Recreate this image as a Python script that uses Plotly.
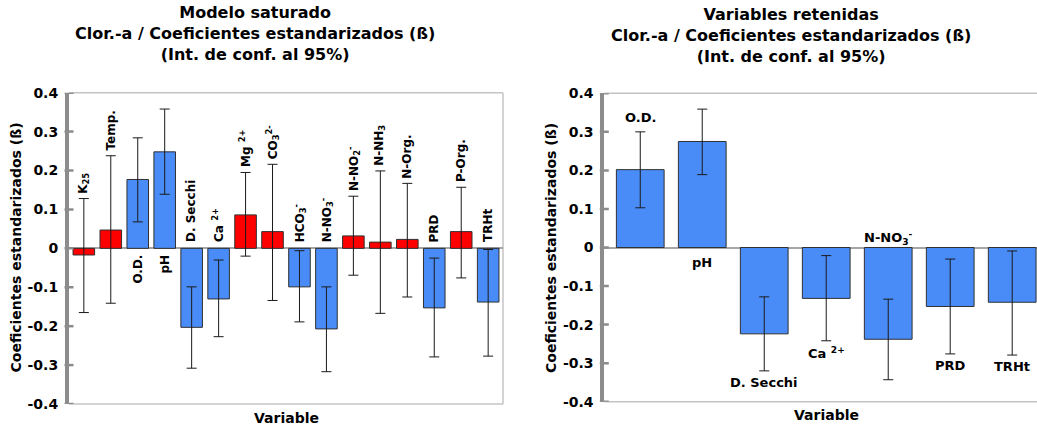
import plotly.graph_objects as go

# ---- Modelo saturado: standardized coefficients (beta) with 95% CI ----
sat_names = ["K25", "Temp.", "O.D.", "pH", "D. Secchi", "Ca", "Mg", "CO3", "HCO3",
             "N-NO3", "N-NO2", "N-NH3", "N-Org.", "PRD", "P-Org.", "TRHt"]
sat_labels = ["K<sub>25</sub>", "Temp.", "O.D.", "pH", "D. Secchi", "Ca <sup>2+</sup>",
              "Mg <sup>2+</sup>", "CO<sub>3</sub><sup>2-</sup>", "HCO<sub>3</sub><sup>-</sup>",
              "N-NO<sub>3</sub><sup>-</sup>", "N-NO<sub>2</sub><sup>-</sup>", "N-NH<sub>3</sub>",
              "N-Org.", "PRD", "P-Org.", "TRHt"]
sat_beta = [-0.017, 0.047, 0.177, 0.248, -0.203, -0.130, 0.086, 0.043, -0.099,
            -0.207, 0.032, 0.016, 0.023, -0.153, 0.043, -0.138]
sat_lo = [-0.165, -0.141, 0.068, 0.139, -0.308, -0.227, -0.020, -0.134, -0.189,
          -0.317, -0.069, -0.167, -0.125, -0.279, -0.076, -0.277]
sat_hi = [0.128, 0.238, 0.284, 0.358, -0.099, -0.030, 0.195, 0.216, -0.006,
          -0.099, 0.134, 0.199, 0.167, -0.025, 0.157, -0.003]

# ---- Variables retenidas ----
ret_names = ["O.D.", "pH", "D. Secchi", "Ca", "N-NO3", "PRD", "TRHt"]
ret_labels = ["O.D.", "pH", "D. Secchi", "Ca <sup>2+</sup>", "N-NO<sub>3</sub><sup>-</sup>", "PRD", "TRHt"]
ret_beta = [0.202, 0.275, -0.224, -0.132, -0.238, -0.153, -0.142]
ret_lo = [0.103, 0.189, -0.320, -0.242, -0.343, -0.276, -0.279]
ret_hi = [0.300, 0.359, -0.128, -0.021, -0.134, -0.030, -0.009]

y_ticks = [-0.4, -0.3, -0.2, -0.1, 0, 0.1, 0.2, 0.3, 0.4]
y_tick_labels = ["-0.4", "-0.3", "-0.2", "-0.1", "0", "0.1", "0.2", "0.3", "0.4"]

# label placement (style): where each bar's name sits
sat_label_pos = ["ci", "ci", "below", "below", "above", "above", "ci", "ci", "above",
                 "above", "ci", "ci", "ci", "above", "ci", "above"]
ret_label_pos = ["ci_top", "below", "ci_bottom", "ci_bottom", "above", "ci_bottom", "ci_bottom"]

BLUE = "#4a8cf7"
RED = "#ff0000"
FONT = "DejaVu Sans"
W, H = 1037, 427


def px_x(p):
    return p / W


def px_y(p):
    return (H - p) / H


sat_colors = [BLUE if lo * hi > 0 else RED for lo, hi in zip(sat_lo, sat_hi)]
ret_colors = [BLUE for _ in ret_beta]

fig = go.Figure()


def add_bars(names, beta, lo, hi, colors, xa, ya, width):
    fig.add_trace(go.Bar(
        x=names, y=beta, xaxis=xa, yaxis=ya, width=width,
        marker=dict(color=colors, line=dict(color="#303030", width=1)),
        error_y=dict(type="data", symmetric=False,
                     array=[h - b for h, b in zip(hi, beta)],
                     arrayminus=[b - l for l, b in zip(lo, beta)],
                     color="#1a1a1a", thickness=1, width=5),
        showlegend=False, hoverinfo="skip",
    ))


add_bars(sat_names, sat_beta, sat_lo, sat_hi, sat_colors, "x", "y", 0.8)
add_bars(ret_names, ret_beta, ret_lo, ret_hi, ret_colors, "x2", "y2", 0.77)

axis_gray = "#8c8c8c"
yax_common = dict(range=[-0.4, 0.4], tickvals=y_ticks, ticktext=y_tick_labels,
                  showgrid=False, zeroline=True, zerolinecolor="#a6a6a6", zerolinewidth=1.5,
                  showline=True, linecolor=axis_gray, linewidth=4, ticks="",
                  tickfont=dict(family=FONT, size=14, color="black", weight="bold"),
                  ticklabelstandoff=4, automargin=False)
xax_common = dict(type="category", showticklabels=False, showgrid=False, zeroline=False,
                  showline=False, ticks="", automargin=False)

fig.update_layout(
    width=W, height=H, margin=dict(l=0, r=0, t=0, b=0, pad=0, autoexpand=False),
    paper_bgcolor="white", plot_bgcolor="white",
    font=dict(family=FONT, color="black", weight="bold"),
    bargap=0.2,
    xaxis=dict(domain=[px_x(69), px_x(503)], range=[-0.55, 15.55],
               categoryorder="array", categoryarray=sat_names, anchor="y", **xax_common),
    yaxis=dict(domain=[px_y(404), px_y(92.7)], anchor="x", **yax_common),
    xaxis2=dict(domain=[px_x(604.3), 1], range=[-0.58, 6.40],
                categoryorder="array", categoryarray=ret_names, anchor="y2", **xax_common),
    yaxis2=dict(domain=[px_y(401.7), px_y(93.3)], anchor="x2", **yax_common),
)

shapes = []
# plot-area frame (light gray) and crossing tick marks on the value axes
frame = "#c4c4c4"
for xr, yr, right_edge in (("x", "y", True), ("x2", "y2", False)):
    shapes.append(dict(type="line", xref=f"{xr} domain", yref=f"{yr} domain",
                       x0=0, x1=1, y0=1, y1=1, line=dict(color=frame, width=1.5), layer="below"))
    shapes.append(dict(type="line", xref=f"{xr} domain", yref=f"{yr} domain",
                       x0=0, x1=1, y0=0, y1=0, line=dict(color=frame, width=1.5), layer="below"))
    if right_edge:
        shapes.append(dict(type="line", xref=f"{xr} domain", yref=f"{yr} domain",
                           x0=1, x1=1, y0=0, y1=1, line=dict(color=frame, width=1.5), layer="below"))
    for t in y_ticks:
        shapes.append(dict(type="line", xref=f"{xr} domain", yref=yr, xsizemode="pixel",
                           xanchor=0, x0=-4.5, x1=4.5, y0=t, y1=t,
                           line=dict(color=axis_gray, width=2.5), layer="above"))
fig.update_layout(shapes=shapes)

ann = []
lab_font_sat = dict(family=FONT, size=12, color="black", weight="bold")
lab_font_ret = dict(family=FONT, size=13, color="black", weight="bold")

for name, lab, pos, hi in zip(sat_names, sat_labels, sat_label_pos, sat_hi):
    if pos == "ci":
        y, ya, ys = hi, "bottom", 3
    elif pos == "above":
        y, ya, ys = 0, "bottom", 4
    else:
        y, ya, ys = 0, "top", -4
    ann.append(dict(x=name, y=y, xref="x", yref="y", text=lab, textangle=-90,
                    showarrow=False, xanchor="center", yanchor=ya, yshift=ys,
                    font=lab_font_sat))

for name, lab, pos, lo, hi in zip(ret_names, ret_labels, ret_label_pos, ret_lo, ret_hi):
    if pos == "ci_top":
        y, ya, ys = hi, "bottom", 5
    elif pos == "ci_bottom":
        y, ya, ys = lo, "top", -2
    elif pos == "above":
        y, ya, ys = 0, "bottom", -1
    else:
        y, ya, ys = 0, "top", -5
    ann.append(dict(x=name, y=y, xref="x2", yref="y2", text=lab,
                    showarrow=False, xanchor="center", yanchor=ya, yshift=ys,
                    font=lab_font_ret))

title_font = dict(family=FONT, size=16, color="black", weight="bold")
ann.append(dict(x=px_x(255), y=1, xref="paper", yref="paper", xanchor="center", yanchor="top",
                text="Modelo saturado<br>Clor.-a / Coeficientes estandarizados (ß)<br>(Int. de conf. al 95%)",
                showarrow=False, font=title_font, yshift=-1))
ann.append(dict(x=px_x(791), y=1, xref="paper", yref="paper", xanchor="center", yanchor="top",
                text="Variables retenidas<br>Clor.-a / Coeficientes estandarizados (ß)<br>(Int. de conf. al 95%)",
                showarrow=False, font=title_font, yshift=-2.5))

axis_title_font = dict(family=FONT, size=14, color="black", weight="bold")
for xc, yc in ((15.5, 248), (551, 248)):
    ann.append(dict(x=px_x(xc), y=px_y(yc), xref="paper", yref="paper", xanchor="center",
                    yanchor="middle", text="Coeficientes estandarizados (ß)", textangle=-90,
                    showarrow=False, font=axis_title_font))
for xc, yc in ((286, 418), (826, 415)):
    ann.append(dict(x=px_x(xc), y=px_y(yc), xref="paper", yref="paper", xanchor="center",
                    yanchor="middle", text="Variable", showarrow=False, font=axis_title_font))

fig.update_layout(annotations=ann)

fig.write_html("out.html")
